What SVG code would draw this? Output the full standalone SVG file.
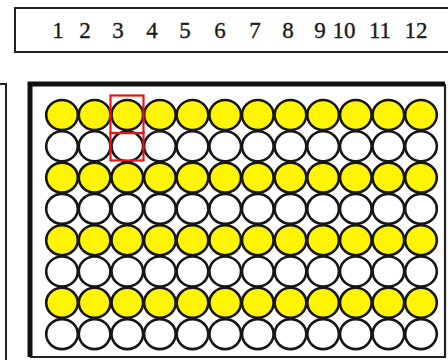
<svg xmlns="http://www.w3.org/2000/svg" xmlns:xlink="http://www.w3.org/1999/xlink" width="448" height="360" viewBox="0 0 448 360">
<style>
.num{font-family:"Liberation Serif","Times New Roman",serif;font-size:23px;fill:#1a1a1a;stroke:#1a1a1a;stroke-width:0.35;text-anchor:middle}
.frame{fill:none;stroke:#222;stroke-width:2}
.w{stroke:#161616;stroke-width:2.6}
.y{fill:#FFF500}
.e{fill:#ffffff}
.sel{fill:none;stroke:#e01818;stroke-width:2.2}
</style>
<defs>
<g id="rowshape">
<ellipse class="w" cx="62" cy="0" rx="15.8" ry="15"/>
<ellipse class="w" cx="94.6" cy="0" rx="15.8" ry="15"/>
<ellipse class="w" cx="127.3" cy="0" rx="15.8" ry="15"/>
<ellipse class="w" cx="159.9" cy="0" rx="15.8" ry="15"/>
<ellipse class="w" cx="192.5" cy="0" rx="15.8" ry="15"/>
<ellipse class="w" cx="225.2" cy="0" rx="15.8" ry="15"/>
<ellipse class="w" cx="257.8" cy="0" rx="15.8" ry="15"/>
<ellipse class="w" cx="290.5" cy="0" rx="15.8" ry="15"/>
<ellipse class="w" cx="323.1" cy="0" rx="15.8" ry="15"/>
<ellipse class="w" cx="355.8" cy="0" rx="15.8" ry="15"/>
<ellipse class="w" cx="388.4" cy="0" rx="15.8" ry="15"/>
<ellipse class="w" cx="421" cy="0" rx="15.8" ry="15"/>
</g>
</defs>
<rect width="448" height="360" fill="#ffffff"/>
<g id="header">
<rect class="frame" x="15" y="8" width="440" height="44"/>
<text class="num" x="58" y="38">1</text>
<text class="num" x="85" y="38">2</text>
<text class="num" x="118" y="38">3</text>
<text class="num" x="152" y="38">4</text>
<text class="num" x="185" y="38">5</text>
<text class="num" x="220" y="38">6</text>
<text class="num" x="255" y="38">7</text>
<text class="num" x="288" y="38">8</text>
<text class="num" x="320" y="38">9</text>
<text class="num" x="344" y="38">10</text>
<text class="num" x="380" y="38">11</text>
<text class="num" x="416" y="38">12</text>
</g>
<g id="side-panel">
<rect class="frame" x="-20" y="84" width="26" height="290"/>
</g>
<g id="plate">
<path d="M445 84 V357 H30" fill="none" stroke="#222" stroke-width="2.2"/>
<path d="M30 357 V84 H445" fill="none" stroke="#111" stroke-width="5"/>
</g>
<g id="wells">
<g id="row-1" class="y" transform="translate(0,115)"><use xlink:href="#rowshape"/></g>
<g id="row-2" class="e" transform="translate(0,146.3)"><use xlink:href="#rowshape"/></g>
<g id="row-3" class="y" transform="translate(0,177.6)"><use xlink:href="#rowshape"/></g>
<g id="row-4" class="e" transform="translate(0,208.9)"><use xlink:href="#rowshape"/></g>
<g id="row-5" class="y" transform="translate(0,240.2)"><use xlink:href="#rowshape"/></g>
<g id="row-6" class="e" transform="translate(0,271.5)"><use xlink:href="#rowshape"/></g>
<g id="row-7" class="y" transform="translate(0,302.8)"><use xlink:href="#rowshape"/></g>
<g id="row-8" class="e" transform="translate(0,334.1)"><use xlink:href="#rowshape"/></g>
</g>
<g id="selection">
<rect class="sel" x="110.5" y="95.5" width="33" height="37.5"/>
<rect class="sel" x="110.5" y="133" width="33" height="27.5"/>
</g>
</svg>
